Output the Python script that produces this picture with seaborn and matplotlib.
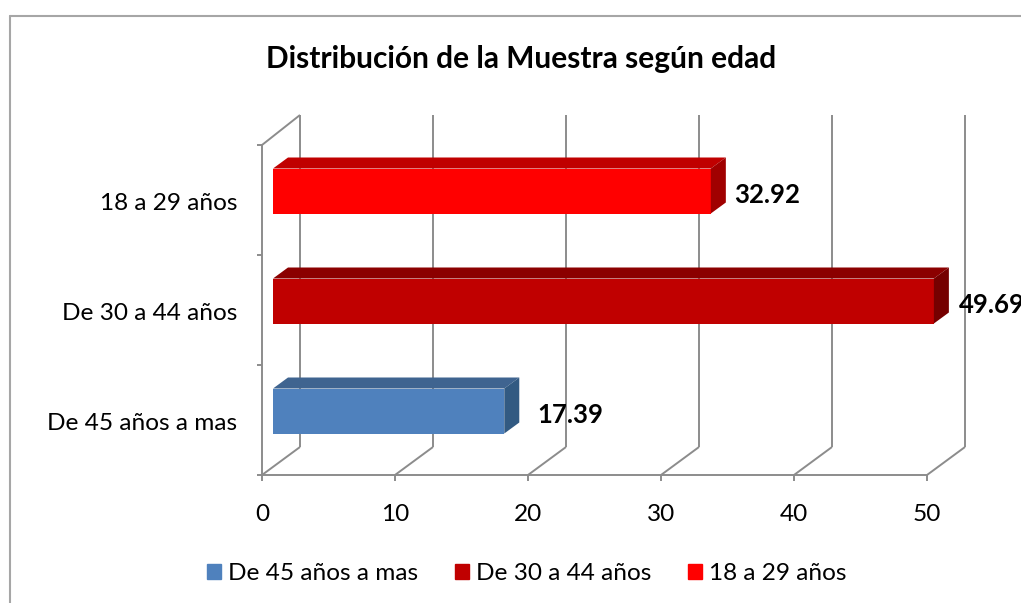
import matplotlib
matplotlib.use("Agg")
import matplotlib.pyplot as plt
import seaborn as sns
import pandas as pd
from matplotlib.lines import Line2D
from matplotlib.patches import Patch, Polygon

title = "Distribución de la Muestra según edad"
categories = ["18 a 29 años", "De 30 a 44 años", "De 45 años a mas"]
values = [32.92, 49.69, 17.39]
value_labels = ["32.92", "49.69", "17.39"]
x_ticks = [0, 10, 20, 30, 40, 50]
legend_order = ["De 45 años a mas", "De 30 a 44 años", "18 a 29 años"]

front_colors = ["#FF0000", "#C00000", "#4F81BD"]
top_colors = ["#C00000", "#8B0000", "#3F6490"]
side_colors = ["#A00000", "#750000", "#325A82"]
label_pads = [0.65, 0.75, 1.35]

W, H = 1021, 603
GRID = "#8C8C8C"
FS = 17.6

sns.set_theme(style="white")
plt.rcParams["font.family"] = ["Lato", "DejaVu Sans"]

fig = plt.figure(figsize=(W / 100, H / 100), dpi=100)
ax = fig.add_axes([262 / W, 1 - 475 / H, 665 / W, 330 / H])

df = pd.DataFrame({"cat": categories, "val": values})
sns.barplot(data=df, y="cat", x="val", hue="cat", palette=front_colors, dodge=False,
            legend=False, width=45 / 110, saturation=1, ax=ax, zorder=3, clip_on=False)
ax.set_xlim(0, 50)
ax.set_ylim(2.5, -0.5)

# 3d look: sizes in data units, 13.3 px per x unit and 110 px per category
wall_dx, wall_dy = 38 / 13.3, 28 / 110
bar_dx, bar_dy = 15 / 13.3, 11 / 110
start = 11 / 13.3
shift = -9 / 110

for i, p in enumerate(ax.patches):
    p.set_x(start)
    p.set_y(i - p.get_height() / 2 + shift)
    p.set_edgecolor("none")
    x0, x1 = start, start + values[i]
    y0, y1 = p.get_y(), p.get_y() + p.get_height()
    ax.add_patch(Polygon([(x0, y0), (x1, y0), (x1 + bar_dx, y0 - bar_dy), (x0 + bar_dx, y0 - bar_dy)],
                         color=top_colors[i], lw=0, zorder=3, clip_on=False))
    ax.add_patch(Polygon([(x1, y0), (x1 + bar_dx, y0 - bar_dy), (x1 + bar_dx, y1 - bar_dy), (x1, y1)],
                         color=side_colors[i], lw=0, zorder=3, clip_on=False))
    ax.text(x1 + bar_dx + label_pads[i], i + shift + 0.035, value_labels[i], fontsize=18.5, fontweight="bold",
            color="black", va="center", ha="left", zorder=4, clip_on=False)

# walls and floor
line_kw = dict(color=GRID, lw=1.4, clip_on=False, zorder=1, solid_capstyle="butt")
bottom, top = 2.5, -0.5
top_back = top - 30 / 110
for t in x_ticks:
    ax.plot([t, t + wall_dx], [bottom, bottom - wall_dy], **line_kw)
    ax.plot([t + wall_dx, t + wall_dx], [bottom - wall_dy, top_back], **line_kw)
ax.plot([0, wall_dx], [top, top_back], **line_kw)

sns.despine(ax=ax, top=True, right=True)
for side in ["left", "bottom"]:
    ax.spines[side].set_color(GRID)
    ax.spines[side].set_linewidth(1.4)
ax.set_xticks(x_ticks)
ax.set_yticks([0, 1, 2])
ax.set_xlabel("")
ax.set_ylabel("")

ax.tick_params(axis="x", bottom=True, length=4, width=1.4, color=GRID, labelsize=FS, pad=17, labelcolor="black")
ax.tick_params(axis="y", left=False, labelleft=False)
for t in [top, 0.5, 1.5, bottom]:
    ax.plot([-5 / 13.3, 0], [t, t], **line_kw)
# category labels sit on the left, right aligned at x=237 px
for i, c in enumerate(categories):
    ax.text(-25 / 13.3, i + 0.035, c, fontsize=FS, ha="right", va="center", color="black", clip_on=False)

fig.text(521 / W, 1 - 59 / H, title, fontsize=21.5, fontweight="bold", ha="center", va="center", color="black")

handles = [Patch(color=front_colors[categories.index(c)], label=c) for c in legend_order]
fig.legend(handles=handles, ncol=3, loc="center", bbox_to_anchor=(527 / W, 1 - 574 / H), frameon=False,
           fontsize=FS, handlelength=0.57, handleheight=0.57, handletextpad=0.29, columnspacing=1.5, labelcolor="black")

# chart frame, runs off the image on the right and bottom
frame_kw = dict(color="#A6A6A6", lw=1.5, transform=fig.transFigure)
fig.add_artist(Line2D([10 / W, 10 / W], [0, 1 - 16 / H], **frame_kw))
fig.add_artist(Line2D([10 / W, 1], [1 - 16 / H, 1 - 16 / H], **frame_kw))

fig.savefig("out.png", dpi=100)
